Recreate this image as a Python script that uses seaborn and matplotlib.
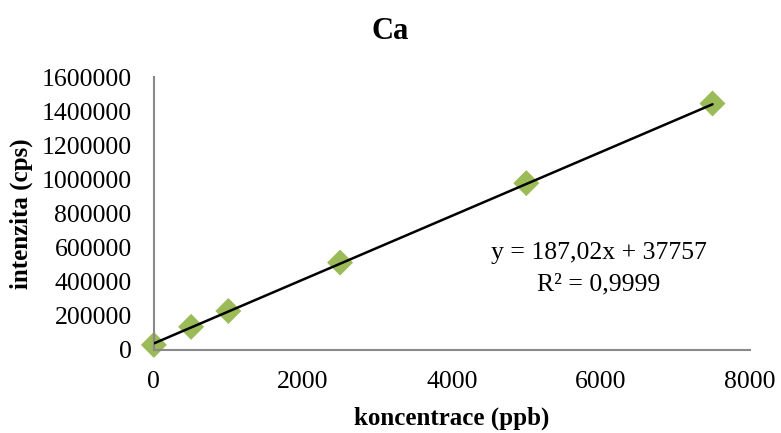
import numpy as np
import pandas as pd
import matplotlib
matplotlib.use("Agg")
import matplotlib.pyplot as plt
import seaborn as sns

# Calibration data for Ca
koncentrace = [0, 500, 1000, 2500, 5000, 7500]
intenzita = [29000, 135000, 228000, 512000, 978000, 1445000]

# Linear trendline coefficients
slope = 187.02
intercept = 37757
r2 = 0.9999

x_ticks = [0, 2000, 4000, 6000, 8000]
y_ticks = [0, 200000, 400000, 600000, 800000, 1000000, 1200000, 1400000, 1600000]

sns.set_theme(style="white")
plt.rcParams["font.family"] = ["Liberation Serif", "DejaVu Serif"]
plt.rcParams["text.color"] = "black"
plt.rcParams["axes.labelcolor"] = "black"

df = pd.DataFrame({"koncentrace": koncentrace, "intenzita": intenzita})
fit = pd.DataFrame({"koncentrace": [koncentrace[0], koncentrace[-1]]})
fit["intenzita"] = slope * fit["koncentrace"] + intercept

fig = plt.figure(figsize=(7.81, 4.33), dpi=100)
ax = fig.add_axes([0.197, 0.192, 0.763, 0.630])

sns.lineplot(data=fit, x="koncentrace", y="intenzita", ax=ax,
             color="black", linewidth=1.8, zorder=3)
sns.scatterplot(data=df, x="koncentrace", y="intenzita", ax=ax,
                marker="D", s=175, color="#9BBB59", edgecolor="none",
                zorder=2, clip_on=False)

ax.set_xlim(0, 8000)
ax.set_ylim(0, 1600000)
ax.set_xticks(x_ticks)
ax.set_yticks(y_ticks)
ax.set_xticklabels([str(v) for v in x_ticks], fontsize=18.5)
ax.set_yticklabels([str(v) for v in y_ticks], fontsize=18.5)
ax.tick_params(axis="x", length=0, pad=15, colors="black")
ax.tick_params(axis="y", length=0, pad=16, colors="black")

for side in ["top", "right"]:
    ax.spines[side].set_visible(False)
for side in ["left", "bottom"]:
    ax.spines[side].set_color("#898989")
    ax.spines[side].set_linewidth(1.5)

ax.set_xlabel("koncentrace (ppb)", fontsize=18, fontweight="bold", labelpad=10)
ax.set_ylabel("intenzita (cps)", fontsize=18, fontweight="bold", labelpad=6)
fig.text(0.5, 0.928, "Ca", ha="center", va="center",
         fontsize=22, fontweight="bold")

eq = f"y = {slope:.2f}x + {intercept}".replace(".", ",")
r2_txt = f"R² = {r2:.4f}".replace(".", ",")
ax.text(0.747, 0.355, eq, transform=ax.transAxes, ha="center", va="center",
        fontsize=18.5, color="black")
ax.text(0.747, 0.238, r2_txt, transform=ax.transAxes, ha="center", va="center",
        fontsize=18.5, color="black")

fig.savefig("out.png", dpi=100)
